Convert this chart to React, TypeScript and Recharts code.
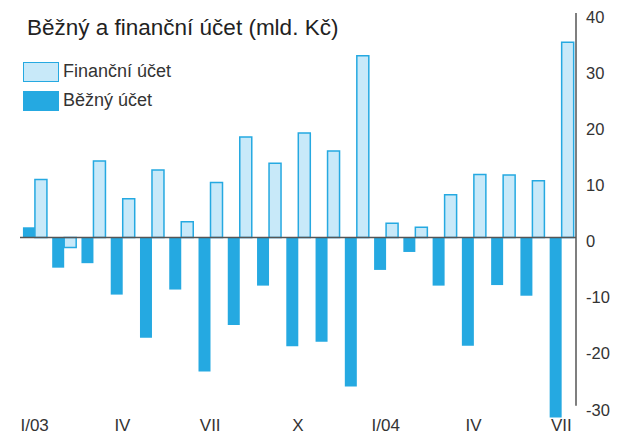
import { Bar, BarChart, Legend, ReferenceLine, XAxis, YAxis } from "recharts";

const months = [
  "I/03", "II/03", "III/03", "IV/03", "V/03", "VI/03", "VII/03", "VIII/03", "IX/03", "X/03",
  "XI/03", "XII/03", "I/04", "II/04", "III/04", "IV/04", "V/04", "VI/04", "VII/04",
];
const bezny = [1.8, -5.4, -4.6, -10.2, -17.9, -9.3, -23.9, -15.6, -8.6, -19.4, -18.6, -26.6, -5.8, -2.6, -8.6, -19.3, -8.5, -10.4, -32.1];
const financni = [10.3, -1.8, 13.6, 6.9, 12.0, 2.8, 9.8, 17.9, 13.2, 18.6, 15.4, 32.4, 2.5, 1.8, 7.6, 11.2, 11.1, 10.1, 34.8];

const xTicks = ["I/03", "IV/03", "VII/03", "X/03", "I/04", "IV/04", "VII/04"];
const xTickText = ["I/03", "IV", "VII", "X", "I/04", "IV", "VII"];
const yTicks = [-30, -20, -10, 0, 10, 20, 30, 40];

const data = months.map((m, i) => ({ month: m, bezny: bezny[i], financni: financni[i] }));

const FONT = '"Liberation Sans", Arial, Helvetica, sans-serif';
const DARK = "#25a9e1";
const LIGHT = "#c8e9f9";
const AXIS = "#555555";

function LegendBox() {
  const items = [
    { label: "Finanční účet", fill: LIGHT, border: `1.5px solid ${DARK}` },
    { label: "Běžný účet", fill: DARK, border: "none" },
  ];
  return (
    <div>
      {items.map((it) => (
        <div key={it.label} style={{ display: "flex", alignItems: "center", height: 29 }}>
          <span
            style={{
              width: 36,
              height: 20,
              boxSizing: "border-box",
              background: it.fill,
              border: it.border,
              marginRight: 4,
            }}
          />
          <span style={{ fontSize: 18, color: "#333", fontFamily: FONT }}>{it.label}</span>
        </div>
      ))}
    </div>
  );
}

export default function App() {
  return (
    <div
      style={{
        position: "absolute",
        left: 0,
        top: 0,
        width: 625,
        height: 435,
        background: "#fff",
        fontFamily: FONT,
      }}
    >
      <div
        style={{
          position: "absolute",
          left: 27,
          top: 17,
          fontSize: 22.5,
          lineHeight: "22.5px",
          color: "#222",
          whiteSpace: "nowrap",
        }}
      >
        Běžný a finanční účet (mld. Kč)
      </div>
      <BarChart
        width={625}
        height={435}
        data={data}
        margin={{ top: 13, right: 0, bottom: 0, left: 20 }}
        barGap={0}
        barCategoryGap="10%"
      >
        <XAxis
          dataKey="month"
          ticks={xTicks}
          interval={0}
          tickFormatter={(v: string) => xTickText[xTicks.indexOf(v)]}
          axisLine={false}
          tickLine={false}
          tickSize={0}
          tickMargin={1}
          height={17}
          tick={{ fontSize: 17, fill: "#333", fontFamily: FONT }}
        />
        <YAxis
          orientation="right"
          width={49}
          domain={[-32.2, 40]}
          ticks={yTicks}
          interval={0}
          axisLine={false}
          tickLine={false}
          tickSize={0}
          tickMargin={10}
          tick={{ fontSize: 16.5, fill: "#333", fontFamily: FONT, dy: 4, textAnchor: "start" }}
        />
        <Legend
          layout="vertical"
          align="center"
          verticalAlign="middle"
          content={() => <LegendBox />}
          wrapperStyle={{ position: "absolute", left: 23, top: 57, width: "auto" }}
        />
        <ReferenceLine
          segment={[
            { x: "VII/04", y: -30 },
            { x: "VII/04", y: 40 },
          ]}
          position="end"
          stroke={AXIS}
          strokeWidth={1.5}
        />
        <Bar dataKey="bezny" fill={DARK} isAnimationActive={false} />
        <Bar dataKey="financni" fill={LIGHT} stroke={DARK} strokeWidth={1.5} isAnimationActive={false} />
        <ReferenceLine y={0} stroke={AXIS} strokeWidth={1.5} />
      </BarChart>
    </div>
  );
}
